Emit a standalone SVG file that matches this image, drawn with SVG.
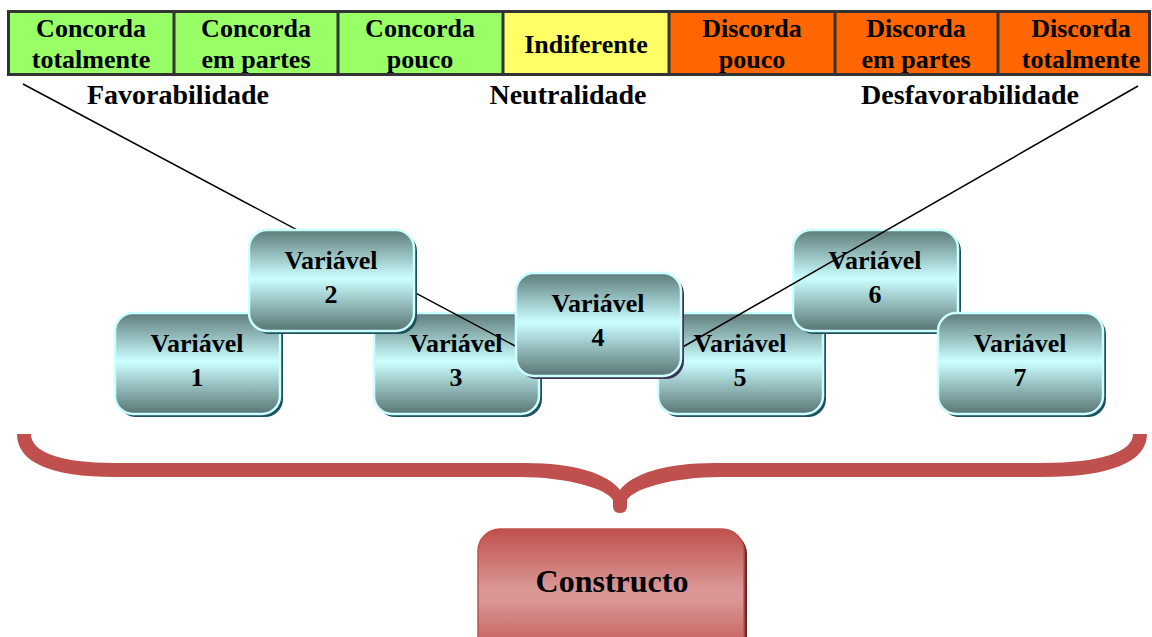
<svg xmlns="http://www.w3.org/2000/svg" width="1152" height="637" viewBox="0 0 1152 637">
<defs>
<linearGradient id="gv" x1="0" y1="0" x2="0" y2="1">
<stop offset="0" stop-color="#5e7b7b"/>
<stop offset="0.48" stop-color="#ccffff"/>
<stop offset="1" stop-color="#587474"/>
</linearGradient>
<linearGradient id="gc" x1="0" y1="0" x2="0" y2="1">
<stop offset="0" stop-color="#c0504d"/>
<stop offset="0.45" stop-color="#d99694"/>
<stop offset="0.55" stop-color="#d99694"/>
<stop offset="1" stop-color="#c0504d"/>
</linearGradient>
<style>
text{font-family:"Liberation Serif","Times New Roman",serif;font-weight:bold;fill:#000;text-anchor:middle}
.t{font-size:26px}
.lbl{font-size:28px}
.bx{fill:url(#gv);stroke:#ccffff;stroke-width:2.5}
.sh{fill:#1f5060}
.sh4{fill:#403152}
.cell{stroke:none}
.grid{fill:none;stroke:#333;stroke-width:3}
.ln{stroke:#000;stroke-width:1.5;fill:none}
</style>
</defs>
<rect width="1152" height="637" fill="#fff"/>

<g id="scale">
<rect class="cell" x="8" y="11" width="495" height="64" fill="#99ff66"/>
<rect class="cell" x="503" y="11" width="166" height="64" fill="#ffff66"/>
<rect class="cell" x="669" y="11" width="481" height="64" fill="#ff6600"/>
<rect class="grid" x="8.5" y="11.5" width="1141" height="63"/>
<path class="grid" d="M174,11V75M338,11V75M503,11V75M669,11V75M835,11V75M998,11V75"/>
<text class="t" x="91" y="37">Concorda</text>
<text class="t" x="91" y="68">totalmente</text>
<text class="t" x="256" y="37">Concorda</text>
<text class="t" x="256" y="68">em partes</text>
<text class="t" x="420" y="37">Concorda</text>
<text class="t" x="420" y="68">pouco</text>
<text class="t" x="586" y="53">Indiferente</text>
<text class="t" x="752" y="37">Discorda</text>
<text class="t" x="752" y="68">pouco</text>
<text class="t" x="916" y="37">Discorda</text>
<text class="t" x="916" y="68">em partes</text>
<text class="t" x="1081" y="37">Discorda</text>
<text class="t" x="1081" y="68">totalmente</text>
</g>

<g id="labels">
<text class="lbl" x="178" y="104">Favorabilidade</text>
<text class="lbl" x="568" y="104">Neutralidade</text>
<text class="lbl" x="970" y="104">Desfavorabilidade</text>
</g>

<g id="var1" transform="translate(115,313)">
<rect class="sh" x="3" y="3" width="165" height="101" rx="18"/>
<rect class="bx" x="0" y="0" width="165" height="101" rx="18"/>
<text class="t" x="82" y="39">Variável</text><text class="t" x="82" y="73">1</text>
</g>
<g id="var3" transform="translate(374,313)">
<rect class="sh" x="3" y="3" width="165" height="101" rx="18"/>
<rect class="bx" x="0" y="0" width="165" height="101" rx="18"/>
<text class="t" x="82" y="39">Variável</text><text class="t" x="82" y="73">3</text>
</g>
<g id="var5" transform="translate(658,313)">
<rect class="sh" x="3" y="3" width="165" height="101" rx="18"/>
<rect class="bx" x="0" y="0" width="165" height="101" rx="18"/>
<text class="t" x="82" y="39">Variável</text><text class="t" x="82" y="73">5</text>
</g>
<g id="var6" transform="translate(793,230)">
<rect class="sh" x="3" y="3" width="165" height="101" rx="18"/>
<rect class="bx" x="0" y="0" width="165" height="101" rx="18"/>
<text class="t" x="82" y="39">Variável</text><text class="t" x="82" y="73">6</text>
</g>
<g id="var7" transform="translate(938,313)">
<rect class="sh" x="3" y="3" width="165" height="101" rx="18"/>
<rect class="bx" x="0" y="0" width="165" height="101" rx="18"/>
<text class="t" x="82" y="39">Variável</text><text class="t" x="82" y="73">7</text>
</g>

<g id="connectors">
<line class="ln" x1="23" y1="84" x2="517" y2="347"/>
<line class="ln" x1="1138" y1="86" x2="681" y2="348"/>
</g>

<g id="var2" transform="translate(249,230)">
<rect class="sh" x="3" y="3" width="165" height="101" rx="18"/>
<rect class="bx" x="0" y="0" width="165" height="101" rx="18"/>
<text class="t" x="82" y="39">Variável</text><text class="t" x="82" y="73">2</text>
</g>
<g id="var4" transform="translate(516,273)">
<rect class="sh4" x="3" y="3" width="165" height="103" rx="18"/>
<rect class="bx" x="0" y="0" width="165" height="103" rx="18"/>
<text class="t" x="82" y="39">Variável</text><text class="t" x="82" y="73">4</text>
</g>

<g id="brace">
<path fill="#c0504d" d="M17,434 L31,434 C31,452 60,463 115,463 L525,463 C575,463 608,474 620,490 C632,474 665,463 715,463 L1042,463 C1100,463 1133,452 1133,434 L1147,434 C1147,462 1110,477 1042,477 L720,477 C675,477 634,488 627,500 L627,506 Q627,513 620,513 Q613,513 613,506 L613,500 C606,488 565,477 520,477 L115,477 C50,477 17,462 17,434 Z"/>
</g>

<g id="constructo">
<rect x="481" y="532" width="266" height="130" rx="22" fill="#6b2a28"/>
<rect x="478" y="529" width="266" height="130" rx="22" fill="url(#gc)" stroke="#c0504d" stroke-width="1.5"/>
<text x="612" y="592" style="font-size:32px">Constructo</text>
</g>
</svg>
